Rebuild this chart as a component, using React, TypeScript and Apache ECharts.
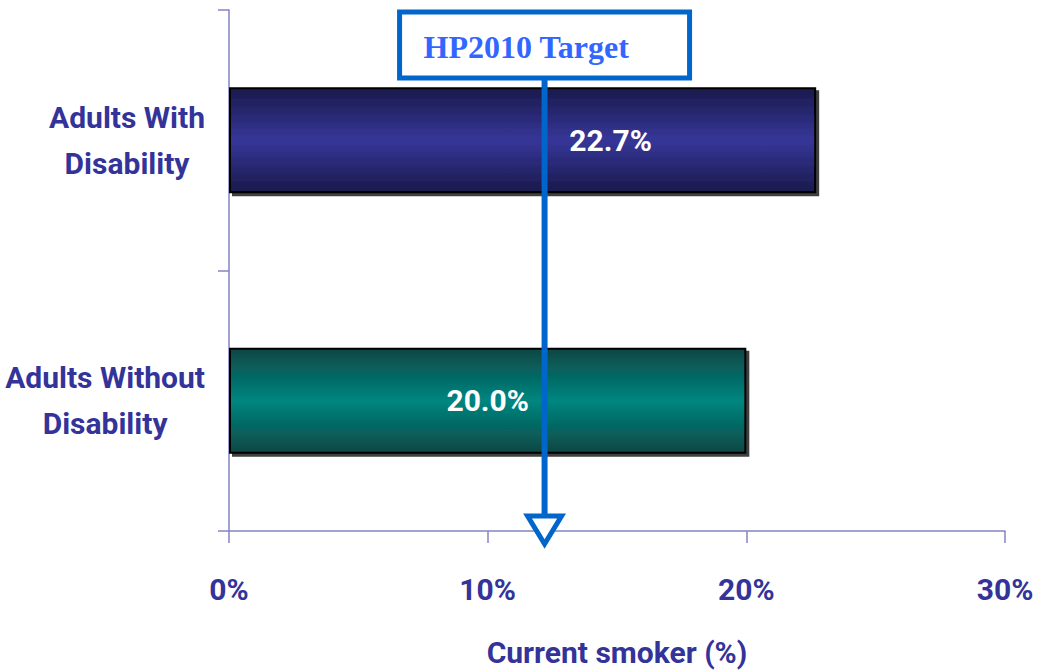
import React, { useEffect, useRef } from "react";
import * as echarts from "echarts";

const categories = ["Adults With\nDisability", "Adults Without\nDisability"];
const values = [22.7, 20.0];
const valueLabels = ["22.7%", "20.0%"];
const xTicks = [0, 10, 20, 30];
const targetValue = 12.2;
const targetLabel = "HP2010 Target";
const axisTitle = "Current smoker (%)";

const FONT = "Roboto, 'Liberation Sans', sans-serif";
const NAVY = "#333399";
const AXIS = "#8585c2";
const FS = 30;

export default function App() {
  const ref = useRef<HTMLDivElement>(null);
  useEffect(() => {
    document.body.style.margin = "0";
    const chart = echarts.init(ref.current!, undefined, { renderer: "svg" });
    const grads = [
      new echarts.graphic.LinearGradient(0, 0, 0, 1, [
        { offset: 0, color: "#1a1a4c" },
        { offset: 0.5, color: "#363699" },
        { offset: 1, color: "#1a1a4c" },
      ]),
      new echarts.graphic.LinearGradient(0, 0, 0, 1, [
        { offset: 0, color: "#0b4744" },
        { offset: 0.5, color: "#018680" },
        { offset: 1, color: "#0b4744" },
      ]),
    ];
    const offsets = [[88, 0], [0, 0]];
    chart.setOption({
      animation: false,
      grid: { left: 229, right: 35, top: 10, bottom: 139, outerBoundsMode: "none", containLabel: false },
      xAxis: {
        type: "value",
        min: xTicks[0],
        max: xTicks[xTicks.length - 1],
        interval: 10,
        splitLine: { show: false },
        axisLine: { show: true, lineStyle: { color: AXIS, width: 1.5 } },
        axisTick: { show: true, length: 12, lineStyle: { color: AXIS, width: 1.5 } },
        axisLabel: {
          formatter: (v: number) => v + "%",
          color: NAVY,
          fontFamily: FONT,
          fontWeight: "bold",
          fontSize: FS,
          margin: 43,
        },
        name: axisTitle,
        nameLocation: "middle",
        nameGap: 106,
        nameTextStyle: { color: NAVY, fontFamily: FONT, fontWeight: "bold", fontSize: FS },
      },
      yAxis: {
        type: "category",
        inverse: true,
        data: categories,
        axisLine: { show: true, lineStyle: { color: AXIS, width: 1.5 } },
        axisTick: { show: true, length: 11, lineStyle: { color: AXIS, width: 1.5 } },
        axisLabel: {
          margin: 24,
          formatter: (v: string) => v.split("\n").map((s) => "{c|" + s + "}").join("\n"),
          rich: {
            c: {
              align: "center",
              color: NAVY,
              fontFamily: FONT,
              fontWeight: "bold",
              fontSize: FS,
              lineHeight: 46,
            },
          },
        },
      },
      series: [
        {
          type: "bar",
          barWidth: "40.7%",
          data: values.map((v, i) => ({
            value: v,
            itemStyle: { color: grads[i] },
            label: { offset: offsets[i], formatter: valueLabels[i] },
          })),
          itemStyle: {
            borderColor: "#000",
            borderWidth: 2,
            shadowColor: "rgba(0,0,0,0.75)",
            shadowOffsetX: 3,
            shadowOffsetY: 3,
            shadowBlur: 0,
          },
          label: {
            show: true,
            position: "inside",
            color: "#fff",
            fontFamily: FONT,
            fontWeight: "bold",
            fontSize: FS,
          },
        },
      ],
    });
    const px = chart.convertToPixel({ xAxisIndex: 0 }, targetValue) as number;
    const blue = "#0066cc";
    chart.setOption({
      graphic: [
        {
          type: "line",
          z: 100,
          shape: { x1: px, y1: 80, x2: px, y2: 516 },
          style: { stroke: blue, lineWidth: 6 },
        },
        {
          type: "polygon",
          z: 101,
          shape: { points: [[px - 17, 516], [px + 17, 516], [px, 544]] },
          style: { stroke: blue, lineWidth: 5, fill: "#fff", lineJoin: "miter" },
        },
        {
          type: "rect",
          z: 102,
          shape: { x: px - 145, y: 12, width: 290, height: 66 },
          style: { stroke: blue, lineWidth: 5, fill: "#fff" },
        },
        {
          type: "text",
          z: 103,
          x: px - 121,
          y: 47,
          style: {
            text: targetLabel,
            fill: "#3366ff",
            font: "bold 32px 'Liberation Serif', 'Times New Roman', serif",
            textAlign: "left",
            textVerticalAlign: "middle",
          },
        },
      ],
    });
    return () => chart.dispose();
  }, []);
  return <div ref={ref} style={{ width: 1040, height: 670 }} />;
}
